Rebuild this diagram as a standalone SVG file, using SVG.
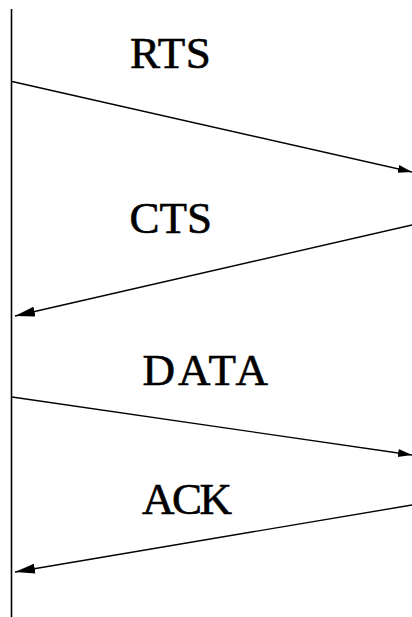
<svg xmlns="http://www.w3.org/2000/svg" width="412" height="617" viewBox="0 0 412 617">
<style>
.msg{stroke:#000;stroke-width:1.4;fill:none}
.lbl{font-family:"Liberation Serif","Times New Roman",serif;font-size:45px;fill:#000;stroke:#000;stroke-width:0.6}
</style>
<defs>
<marker id="ah" markerUnits="userSpaceOnUse" markerWidth="20" markerHeight="14" refX="14" refY="4" orient="auto">
<path d="M0,0 L14,4 L0,8 Z" fill="#000"/>
</marker>
<marker id="ahL" markerUnits="userSpaceOnUse" markerWidth="24" markerHeight="16" refX="20" refY="5" orient="auto">
<path d="M0,0 L20,5 L0,10 Z" fill="#000"/>
</marker>
</defs>
<rect width="412" height="617" fill="#fff"/>
<g id="lifeline"><line x1="11.5" y1="9" x2="11.5" y2="617" stroke="#000" stroke-width="1.6"/></g>
<g id="connectors">
<line class="msg" x1="12" y1="81.5" x2="412" y2="172" marker-end="url(#ah)"/>
<line class="msg" x1="412" y1="225" x2="15" y2="316" marker-end="url(#ahL)"/>
<line class="msg" x1="12" y1="397" x2="412" y2="455" marker-end="url(#ah)"/>
<line class="msg" x1="412" y1="505" x2="15" y2="572" marker-end="url(#ahL)"/>
</g>
<g id="rts"><text class="lbl" x="130" y="67.5" letter-spacing="0.5">RTS</text></g>
<g id="cts"><text class="lbl" x="129.5" y="232.5">CTS</text></g>
<g id="data"><text class="lbl" x="142.5" y="385" letter-spacing="3">DATA</text></g>
<g id="ack"><text class="lbl" x="142" y="513.5" letter-spacing="-2.5">ACK</text></g>
</svg>
